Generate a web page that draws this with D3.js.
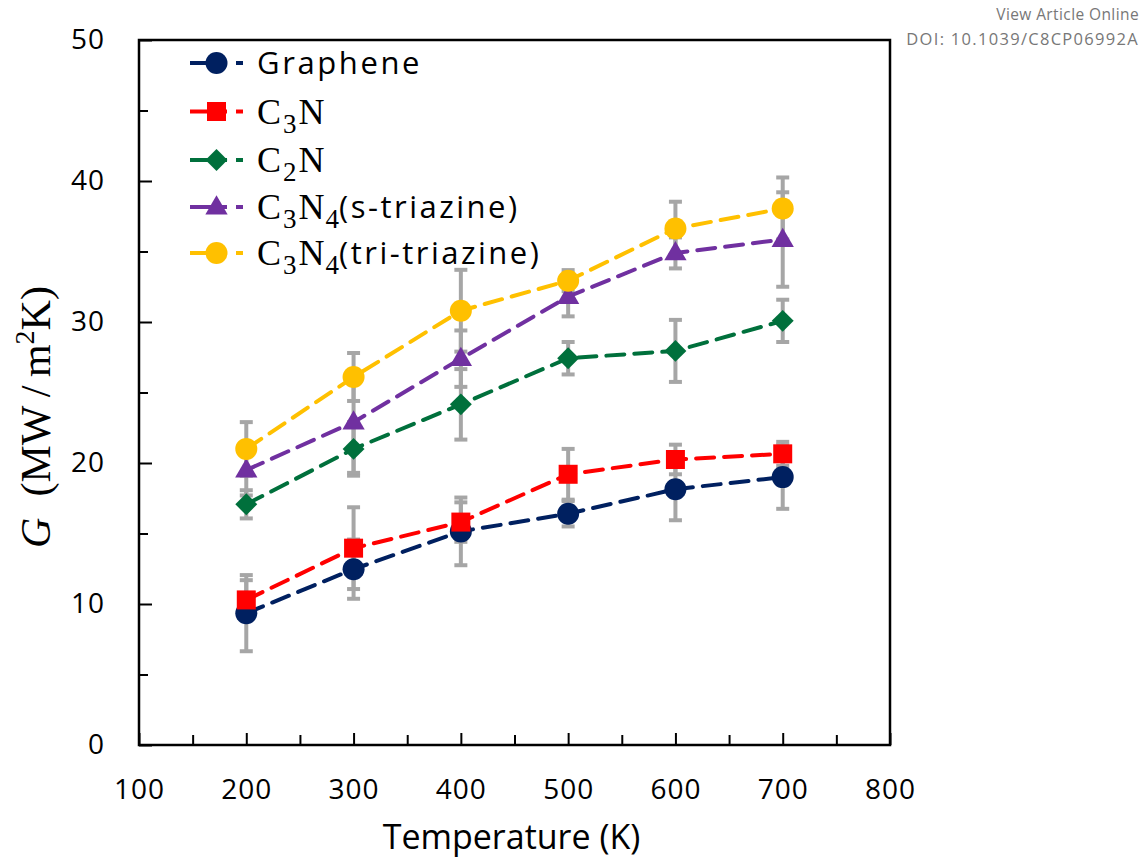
<!DOCTYPE html>
<html>
<head>
<meta charset="utf-8">
<script src="https://cdn.jsdelivr.net/npm/d3@7"></script>
<style>
  html, body { margin: 0; padding: 0; background: #fff; }
  svg { display: block; }
</style>
</head>
<body>
<svg id="chart" width="1142" height="861"></svg>
<script>
// ---------- data ----------
const temps = [200, 300, 400, 500, 600, 700];
const graphene    = [9.35, 12.47, 15.15, 16.4, 18.14, 19.0];
const grapheneErr = [2.7, 2.1, 2.4, 0.9, 2.2, 2.25];
const c3n         = [10.29, 13.96, 15.81, 19.2, 20.25, 20.65];
const c3nErr      = [1.4, 2.9, 1.4, 1.8, 1.05, 0.85];
const c2n         = [17.07, 21.0, 24.16, 27.43, 27.95, 30.08];
const c2nErr      = [1.0, 1.9, 2.5, 1.15, 2.2, 1.5];
const sTriazine    = [19.5, 22.9, 27.4, 31.8, 34.9, 35.85];
const sTriazineErr = [1.8, 3.6, 2.0, 1.4, 1.1, 3.35];
const triTriazine    = [21.0, 26.1, 30.8, 32.93, 36.63, 38.05];
const triTriazineErr = [1.9, 1.7, 2.9, 0.75, 1.9, 2.2];
const xTicks = [100, 200, 300, 400, 500, 600, 700, 800];
const yTicks = [0, 10, 20, 30, 40, 50];

const series = [
  { name: "Graphene", values: graphene, err: grapheneErr, color: "#002060", shape: "circle" },
  { name: "C3N", values: c3n, err: c3nErr, color: "#ff0000", shape: "square" },
  { name: "C2N", values: c2n, err: c2nErr, color: "#00703c", shape: "diamond" },
  { name: "C3N4s", values: sTriazine, err: sTriazineErr, color: "#7030a0", shape: "triangle" },
  { name: "C3N4t", values: triTriazine, err: triTriazineErr, color: "#ffc000", shape: "circle" }
];

// ---------- layout ----------
const svg = d3.select("#chart");
const pL = 139, pR = 890, pT = 40, pB = 745;
const x = d3.scaleLinear().domain([100, 800]).range([pL, pR]);
const y = d3.scaleLinear().domain([0, 50]).range([pB, pT]);

const symbolFor = shape => {
  if (shape === "circle") return d3.symbol().type(d3.symbolCircle).size(Math.PI * 11 * 11)();
  if (shape === "square") return d3.symbol().type(d3.symbolSquare).size(19 * 19)();
  if (shape === "diamond") return d3.symbol().type(d3.symbolSquare).size(15.5 * 15.5)();
  if (shape === "triangle") return d3.symbol().type(d3.symbolTriangle).size(215)();
};
const rotFor = shape => shape === "diamond" ? " rotate(45)" : (shape === "triangle" ? " translate(0,1)" : "");

// ---------- axes ----------
const tickFont = "'Open Sans', sans-serif";

svg.append("rect")
  .attr("x", pL).attr("y", pT)
  .attr("width", pR - pL).attr("height", pB - pT)
  .attr("fill", "none").attr("stroke", "#000").attr("stroke-width", 2.5);

const yAxis = d3.axisLeft(y).tickValues(yTicks).tickSize(-13).tickPadding(34).tickFormat(d3.format("d"));
const gy = svg.append("g").attr("transform", `translate(${pL},0)`).call(yAxis);
gy.select(".domain").remove();
gy.selectAll(".tick line").attr("stroke", "#000").attr("stroke-width", 2);
gy.selectAll(".tick text").attr("font-family", tickFont).attr("font-size", 28).attr("fill", "#000")
  .attr("letter-spacing", 1);
const yMinor = d3.axisLeft(y).tickValues([5, 15, 25, 35, 45]).tickSize(-9).tickFormat("");
const gym = svg.append("g").attr("transform", `translate(${pL},0)`).call(yMinor);
gym.select(".domain").remove();
gym.selectAll(".tick line").attr("stroke", "#000").attr("stroke-width", 2);

const xAxis = d3.axisBottom(x).tickValues(xTicks).tickSize(-12).tickPadding(34).tickFormat(d3.format("d"));
const gx = svg.append("g").attr("transform", `translate(0,${pB})`).call(xAxis);
gx.select(".domain").remove();
gx.selectAll(".tick line").attr("stroke", "#000").attr("stroke-width", 2);
gx.selectAll(".tick text").attr("font-family", tickFont).attr("font-size", 28).attr("fill", "#000")
  .attr("letter-spacing", 1);
const xMinor = d3.axisBottom(x).tickValues([150, 250, 350, 450, 550, 650, 750]).tickSize(-10).tickFormat("");
const gxm = svg.append("g").attr("transform", `translate(0,${pB})`).call(xMinor);
gxm.select(".domain").remove();
gxm.selectAll(".tick line").attr("stroke", "#000").attr("stroke-width", 2);

svg.append("text")
  .attr("x", (pL + pR) / 2 - 3).attr("y", 849)
  .attr("text-anchor", "middle")
  .attr("font-family", tickFont).attr("font-size", 34).attr("fill", "#000")
  .text("Temperature (K)");

const serif = "'Liberation Serif', 'Times New Roman', serif";
const yt = svg.append("text")
  .attr("transform", "translate(50,417) rotate(-90)")
  .attr("text-anchor", "middle")
  .attr("font-family", serif).attr("font-size", 42).attr("fill", "#000");
yt.append("tspan").attr("font-style", "italic").text("G");
yt.append("tspan").text("\u2002(MW\u2009/\u2009m");
yt.append("tspan").attr("font-size", 28).attr("dy", -16).text("2");
yt.append("tspan").attr("dy", 16).text("K)");

// ---------- error bars ----------
const gErr = svg.append("g");
series.forEach(s => {
  temps.forEach((t, i) => {
    const cx = x(t), y1 = y(s.values[i] + s.err[i]), y0 = y(s.values[i] - s.err[i]);
    gErr.append("line").attr("x1", cx).attr("x2", cx).attr("y1", y1).attr("y2", y0)
      .attr("stroke", "#a6a6a6").attr("stroke-width", 4);
    [y1, y0].forEach(yy => gErr.append("line")
      .attr("x1", cx - 6.5).attr("x2", cx + 6.5).attr("y1", yy).attr("y2", yy)
      .attr("stroke", "#a6a6a6").attr("stroke-width", 4));
  });
});

// ---------- lines & markers ----------
const line = d3.line().x((d, i) => x(temps[i])).y(d => y(d));
series.forEach(s => {
  svg.append("path").datum(s.values)
    .attr("d", line)
    .attr("fill", "none").attr("stroke", s.color).attr("stroke-width", 4)
    .attr("stroke-dasharray", "18,10").attr("stroke-linecap", "round");
  svg.append("g").selectAll("path").data(s.values).join("path")
    .attr("d", symbolFor(s.shape))
    .attr("transform", (d, i) => `translate(${x(temps[i])},${y(d)})` + rotFor(s.shape))
    .attr("fill", s.color);
});

// ---------- legend ----------
const legendRows = [63, 111.5, 160, 207, 253];
const lg = svg.append("g");
series.forEach((s, k) => {
  const ly = legendRows[k];
  lg.append("line").attr("x1", 190).attr("x2", 227).attr("y1", ly).attr("y2", ly)
    .attr("stroke", s.color).attr("stroke-width", 4);
  lg.append("line").attr("x1", 236).attr("x2", 243).attr("y1", ly).attr("y2", ly)
    .attr("stroke", s.color).attr("stroke-width", 4);
  lg.append("path").attr("d", symbolFor(s.shape))
    .attr("transform", `translate(216.5,${ly})` + rotFor(s.shape))
    .attr("fill", s.color);
});

function legendText(k) {
  return lg.append("text").attr("x", 257).attr("y", legendRows[k] + 11)
    .attr("font-size", 36).attr("fill", "#000");
}
legendText(0).attr("font-family", tickFont).attr("font-size", 31).attr("letter-spacing", 2.6)
  .text("Graphene");

function chem(k, sub1, sub2, suffix) {
  const t = legendText(k).attr("font-family", serif).attr("y", legendRows[k] + 12);
  t.append("tspan").text("C");
  t.append("tspan").attr("font-size", 27).attr("dy", 9).attr("dx", 2).text(sub1);
  t.append("tspan").attr("dy", -9).attr("dx", 2).text("N");
  if (sub2) {
    t.append("tspan").attr("font-size", 27).attr("dy", 9).attr("dx", 1).text(sub2);
    t.append("tspan").attr("dy", -10).attr("font-family", tickFont).attr("font-size", 31)
      .attr("letter-spacing", 2.5).text(suffix);
  }
}
chem(1, "3");
chem(2, "2");
chem(3, "3", "4", "(s-triazine)");
chem(4, "3", "4", "(tri-triazine)");

// ---------- watermark ----------
svg.append("text").attr("x", 1139).attr("y", 20).attr("text-anchor", "end")
  .attr("font-family", "'Open Sans', sans-serif").attr("font-size", 15.5).attr("fill", "#777")
  .attr("letter-spacing", 0.4)
  .text("View Article Online");
svg.append("text").attr("x", 1139).attr("y", 45).attr("text-anchor", "end")
  .attr("font-family", "'Open Sans', sans-serif").attr("font-size", 16.5).attr("fill", "#777")
  .attr("letter-spacing", 1.3)
  .text("DOI: 10.1039/C8CP06992A");
</script>
</body>
</html>
